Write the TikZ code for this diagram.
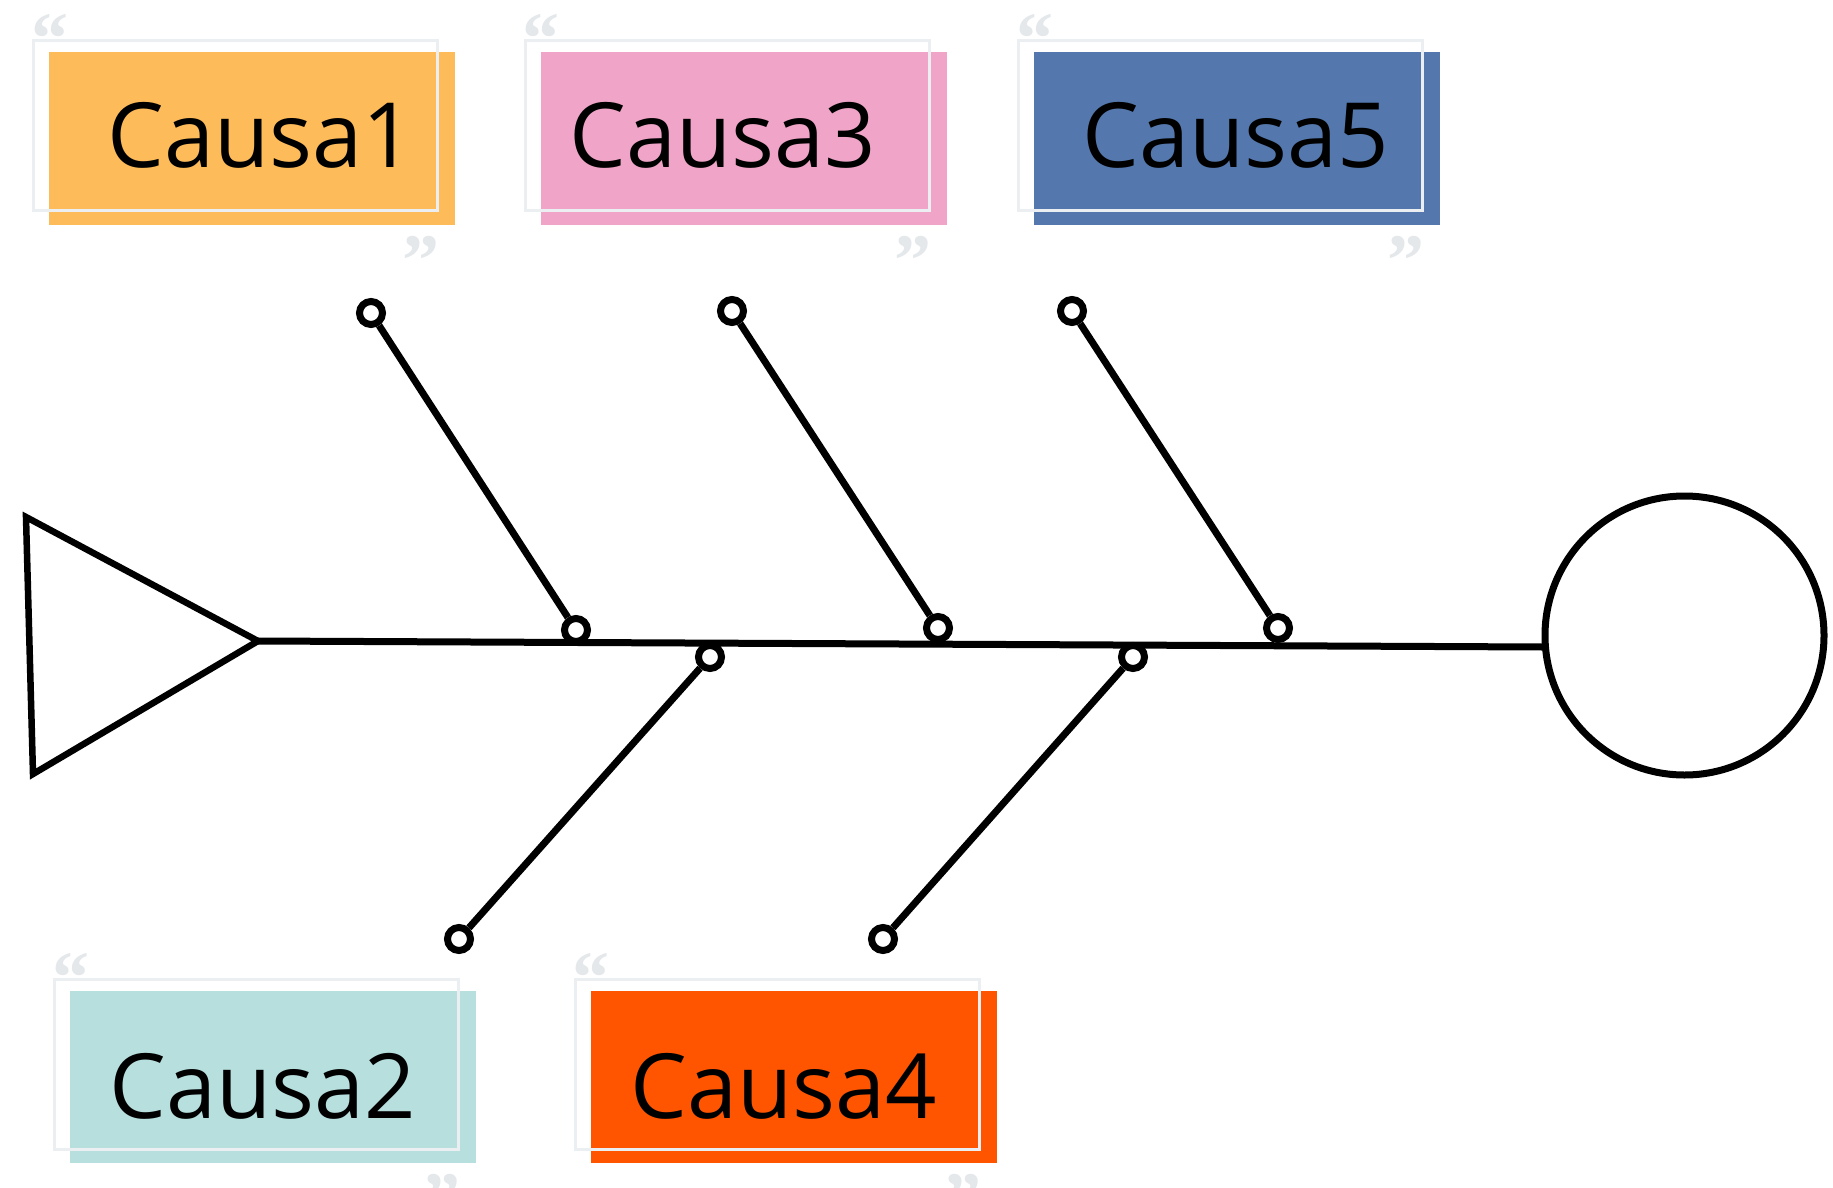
\documentclass[tikz,border=0pt]{standalone}
\usepackage{fontspec}
\setmainfont{Open Sans}
\newfontfamily\qfont{Liberation Serif}
\definecolor{cOrange}{HTML}{FDBB5A}
\definecolor{cPink}{HTML}{F0A5C8}
\definecolor{cBlue}{HTML}{5478AD}
\definecolor{cTeal}{HTML}{B6DFDE}
\definecolor{cRed}{HTML}{FF5500}
\definecolor{framegray}{HTML}{ECEFF1}
\definecolor{quotegray}{HTML}{E4E8EB}
\begin{document}
\begin{tikzpicture}[x=1pt,y=-1pt,
  colbox/.style={inner sep=0, minimum width=406pt, minimum height=172pt},
  framebox/.style={draw=framegray, line width=3pt, inner sep=0, minimum width=404pt, minimum height=170pt},
  lbl/.style={font=\fontsize{90}{108}\selectfont, anchor=base, inner sep=0},
  qmark/.style={font=\qfont\bfseries\fontsize{74}{84}\selectfont, text=quotegray, inner sep=0},
  joint/.style={circle, draw=black, fill=white, line width=7pt, minimum size=23pt, inner sep=0},
  bone/.style={draw=black, line width=7pt},
  goalc/.style={circle, draw=black, line width=7pt, minimum size=279pt, inner sep=0}]
\useasboundingbox (0,0) rectangle (1833,1188);

% --- cause boxes ---
\foreach \n/\cx/\cy/\col in {1/252/138.5/cOrange, 3/743.5/138.5/cPink, 5/1237/138.5/cBlue, 2/273/1077/cTeal, 4/793.5/1077/cRed}{
  \node[colbox, fill=\col] (box\n) at (\cx,\cy) {};
  \node[framebox] (frame\n) at (\cx-16.5,\cy-13) {};
  \node[qmark, anchor=base west] (qo\n) at ([xshift=-1pt,yshift=-25pt]frame\n.north west) {“};
  \node[qmark, anchor=base east] (qc\n) at ([xshift=1pt,yshift=-73pt]frame\n.south east) {”};
}
\node[lbl] (t1) at (261,167) {Causa1};
\node[lbl] (t3) at (723,167) {Causa3};
\node[lbl] (t5) at (1236,167) {Causa5};
\node[lbl] (t2) at (263,1118) {Causa2};
\node[lbl] (t4) at (784,1118) {Causa4};

% --- head and tail ---
\coordinate (tip) at (258,641);
\coordinate (se) at (1543,647);
\draw[line width=6.5pt, line join=miter] (26,517) -- (tip) -- (33,774) -- cycle;
\node[goalc] (goal) at (1684.5,635.5) {};
\draw[line width=7pt] (tip) -- (se);

% --- bones ---
\node[joint] (u1) at (371,313) {};
\node[joint] (u3) at (732,311) {};
\node[joint] (u5) at (1072,311) {};
\node[joint] (s1) at (576,630) {};
\node[joint] (s3) at (938,628) {};
\node[joint] (s5) at (1278,628) {};
\node[joint] (s2) at (710,657) {};
\node[joint] (s4) at (1133,657) {};
\node[joint] (l2) at (459,939) {};
\node[joint] (l4) at (883,939) {};
\draw[bone] (u1) -- (s1);
\draw[bone] (u3) -- (s3);
\draw[bone] (u5) -- (s5);
\draw[bone] (s2) -- (l2);
\draw[bone] (s4) -- (l4);
\end{tikzpicture}
\end{document}
